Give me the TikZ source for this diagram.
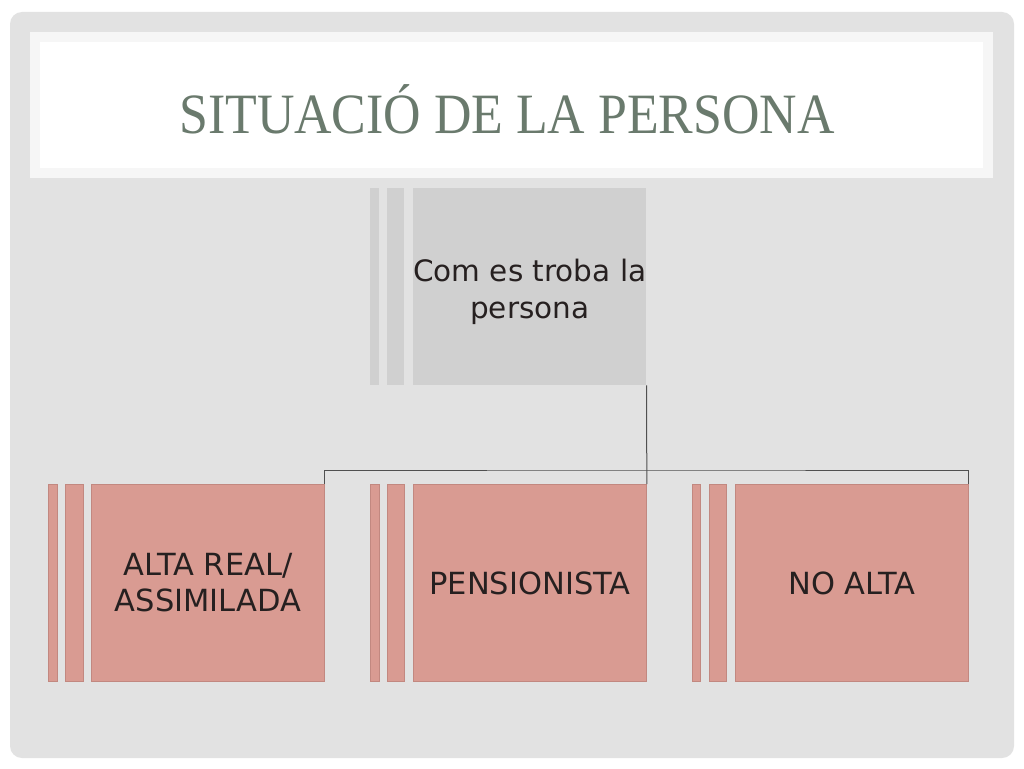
\documentclass[tikz,border=0pt]{standalone}
\usepackage{fontspec}
\newfontfamily\boxfont{DejaVu Sans}
\newfontfamily\titlefont[FakeStretch=0.91]{Liberation Serif}
\definecolor{panel}{HTML}{E2E2E2}
\definecolor{band}{HTML}{F6F6F6}
\definecolor{titlecol}{HTML}{6A7A6D}
\definecolor{graybox}{HTML}{D0D0D0}
\definecolor{redbox}{HTML}{D99B92}
\definecolor{redline}{HTML}{C28880}
\definecolor{linecol}{HTML}{505050}
\definecolor{txtdark}{HTML}{262020}
\tikzset{
  mainbox/.style={anchor=north west, minimum width=233pt, minimum height=197pt, inner sep=0pt,
    align=center, font=\boxfont\fontsize{30.5}{36}\selectfont, text=txtdark},
  graymain/.style={mainbox, fill=graybox},
  redmain/.style={mainbox, fill=redbox, draw=redline, line width=0.8pt},
  graystrip/.style={anchor=north west, fill=graybox, inner sep=0pt, minimum height=197pt},
  redstrip/.style={anchor=north west, fill=redbox, draw=redline, line width=0.8pt, inner sep=0pt, minimum height=197pt},
  conn/.style={draw=linecol, line width=1pt}
}
\begin{document}
\begin{tikzpicture}[x=1pt,y=-1pt]
\useasboundingbox (0,0) rectangle (1024,768);
\fill[white] (0,0) rectangle (1024,768);
\fill[panel, rounded corners=12pt] (10,12) rectangle (1014,758);
\fill[band] (30,32) rectangle (993,178);
\fill[white] (40,42) rectangle (983,168);
\node[text=titlecol, font=\titlefont\fontsize{57}{60}\selectfont, anchor=base] (title) at (507,133) {SITUACIÓ DE LA PERSONA};
% top box
\node[graystrip, minimum width=9pt] (ts1) at (370,188) {};
\node[graystrip, minimum width=17pt] (ts2) at (387,188) {};
\node[graymain, font=\boxfont\fontsize{29.5}{37}\selectfont] (top) at (413,188) {\\[-4pt]Com es troba la\\persona};
% bottom boxes
\node[redstrip, minimum width=9pt] (as1) at (48,484) {};
\node[redstrip, minimum width=18pt] (as2) at (65,484) {};
\node[redmain] (b1) at (91,484) {ALTA REAL/\\ASSIMILADA};
\node[redstrip, minimum width=9pt] (bs1) at (370,484) {};
\node[redstrip, minimum width=17pt] (bs2) at (387,484) {};
\node[redmain] (b2) at (413,484) {PENSIONISTA};
\node[redstrip, minimum width=8pt] (cs1) at (692,484) {};
\node[redstrip, minimum width=17pt] (cs2) at (709,484) {};
\node[redmain] (b3) at (735,484) {NO ALTA};
% connectors
\coordinate (hub) at (646,470);
\draw[conn] (top.south east) -- (b2.north east);
\draw[conn] (b1.north east) |- (hub) -| (b3.north east);
\end{tikzpicture}
\end{document}
